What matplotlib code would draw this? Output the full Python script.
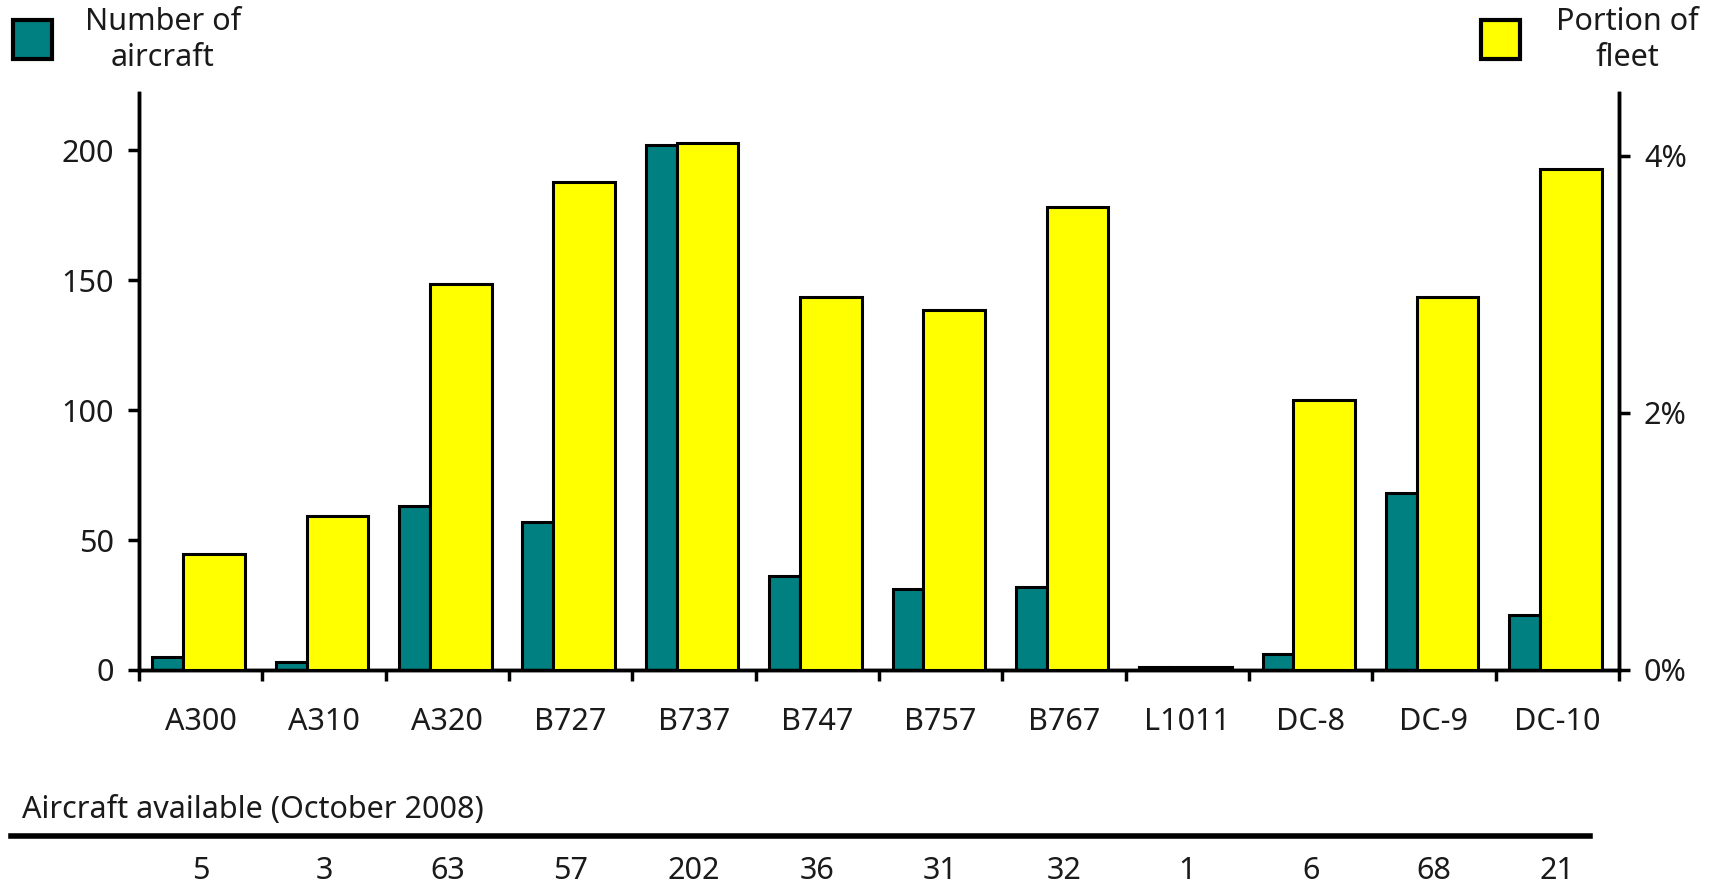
import matplotlib
matplotlib.use('Agg')
import matplotlib.pyplot as plt
import matplotlib.transforms as mtransforms
from matplotlib.patches import Rectangle
import numpy as np

# Data
aircraft = ['A300', 'A310', 'A320', 'B727', 'B737', 'B747', 'B757', 'B767', 'L1011', 'DC-8', 'DC-9', 'DC-10']
num_aircraft = [5, 3, 63, 57, 202, 36, 31, 32, 1, 6, 68, 21]
fleet_share = [0.9, 1.2, 3.0, 3.8, 4.1, 2.9, 2.8, 3.6, 0.02, 2.1, 2.9, 3.9]

teal = '#008080'
yellow = '#ffff00'

plt.rcParams['font.family'] = ['Noto Sans', 'DejaVu Sans']
plt.rcParams['font.weight'] = 'light'
fs = 22
tc = '#1a1a1a'

fig = plt.figure(figsize=(17.13, 8.84), dpi=100)
ax = fig.add_axes([0.0811, 0.2421, 0.864, 0.6527])
ax2 = ax.twinx()

x = np.arange(len(aircraft))
ax.bar(x + 0.11, num_aircraft, width=0.25, align='edge', color=teal,
       edgecolor='black', linewidth=2.2, zorder=3)
ax2.bar(x + 0.36, fleet_share, width=0.5, align='edge', color=yellow,
        edgecolor='black', linewidth=2.2, zorder=3)

ax.set_xlim(0, len(aircraft))
ax.set_ylim(0, 222)
ax2.set_ylim(0, 4.49)

ax.set_yticks([0, 50, 100, 150, 200])
ax2.set_yticks([0, 2, 4])
ax2.set_yticklabels(['0%', '2%', '4%'])

# group boundaries as ticks, names centered
ax.set_xticks(np.arange(len(aircraft) + 1))
ax.set_xticklabels([])
ax.set_xticks(x + 0.5, minor=True)
ax.set_xticklabels(aircraft, minor=True)
ax.tick_params(axis='x', which='major', direction='out', length=8, width=2.5)
ax.tick_params(axis='x', which='minor', length=0, pad=27, labelsize=fs, labelcolor=tc)
ax.tick_params(axis='y', direction='out', length=8, width=2.5, pad=10, labelsize=fs, labelcolor=tc)
ax2.tick_params(axis='y', direction='out', length=8, width=2.5, pad=10, labelsize=fs, labelcolor=tc)

for a in (ax, ax2):
    a.spines['top'].set_visible(False)
    for s in ('left', 'right', 'bottom'):
        a.spines[s].set_linewidth(2.5)

# legend boxes
fig.patches.append(Rectangle((13 / 1713, 1 - 59 / 884), 39 / 1713, 39 / 884,
                             transform=fig.transFigure, facecolor=teal,
                             edgecolor='black', linewidth=3))
fig.patches.append(Rectangle((1481 / 1713, 1 - 59 / 884), 39 / 1713, 39 / 884,
                             transform=fig.transFigure, facecolor=yellow,
                             edgecolor='black', linewidth=3))
fig.text(163 / 1713, 1 - 40 / 884, 'Number of\naircraft', ha='center', va='center',
         fontsize=fs, color=tc, linespacing=1.3)
fig.text(1627 / 1713, 1 - 40 / 884, 'Portion of\nfleet', ha='center', va='center',
         fontsize=fs, color=tc, linespacing=1.3)

# table below
fig.text(22 / 1713, 1 - 810 / 884, 'Aircraft available (October 2008)', ha='left',
         va='center', fontsize=fs, color=tc)
fig.add_artist(plt.Line2D([11 / 1713, 1590 / 1713], [1 - 836 / 884, 1 - 836 / 884],
                          transform=fig.transFigure, color='black', linewidth=4))
trans = mtransforms.blended_transform_factory(ax.transData, fig.transFigure)
for xi, n in zip(x, num_aircraft):
    ax.text(xi + 0.5, 1 - 871 / 884, str(n), transform=trans, ha='center',
            va='center', fontsize=fs, color=tc, clip_on=False)

fig.savefig('out.png', dpi=100)
